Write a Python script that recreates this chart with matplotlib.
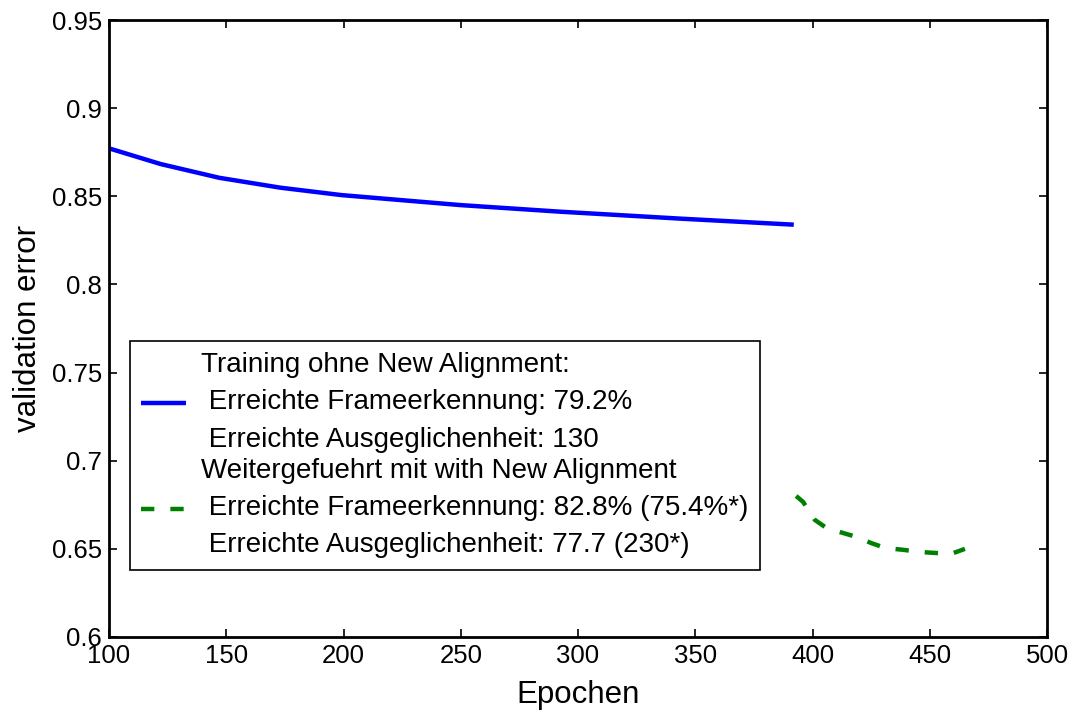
import matplotlib
matplotlib.use('Agg')
import matplotlib.pyplot as plt

# Training without new alignment (blue)
epochs_old = [100, 122, 147, 173, 199, 224, 250, 292, 344, 392]
error_old = [0.8772, 0.8683, 0.8605, 0.8549, 0.8507, 0.8479, 0.8450, 0.8413, 0.8373, 0.8339]

# Continued with new alignment (green, dashed)
epochs_new = [393, 396, 401, 406, 413, 419, 425, 431, 439, 445, 452, 459, 465]
error_new = [0.680, 0.6766, 0.6664, 0.6618, 0.6590, 0.6567, 0.6533, 0.6505,
             0.6494, 0.6483, 0.6477, 0.6471, 0.650]

label_old = ("Training ohne New Alignment:\n"
             " Erreichte Frameerkennung: 79.2%\n"
             " Erreichte Ausgeglichenheit: 130")
label_new = ("Weitergefuehrt mit with New Alignment\n"
             " Erreichte Frameerkennung: 82.8% (75.4%*)\n"
             " Erreichte Ausgeglichenheit: 77.7 (230*)")

x_ticks = [100, 150, 200, 250, 300, 350, 400, 450, 500]
y_ticks = [0.6, 0.65, 0.7, 0.75, 0.8, 0.85, 0.9, 0.95]

plt.rcParams['font.family'] = ['Liberation Sans', 'DejaVu Sans']

fig = plt.figure(figsize=(10.73, 7.15), dpi=100)
ax = fig.add_axes([0.1016, 0.1091, 0.8742, 0.8629])

ax.plot(epochs_old, error_old, color='#0000FF', linewidth=3.2,
        solid_capstyle='butt', label=label_old)
ax.plot(epochs_new, error_new, color='#008000', linewidth=3.2,
        linestyle=(0, (3.0, 3.6)), dash_capstyle='butt', label=label_new)

ax.set_xlim(100, 500)
ax.set_ylim(0.6, 0.95)
ax.set_xticks(x_ticks)
ax.set_xticklabels([str(v) for v in x_ticks])
ax.set_yticks(y_ticks)
ax.set_yticklabels(['0.6', '0.65', '0.7', '0.75', '0.8', '0.85', '0.9', '0.95'])

ax.tick_params(direction='in', top=True, right=True, length=6, width=1.2,
               labelsize=18.5, pad=5)
for s in ax.spines.values():
    s.set_linewidth(2)

ax.set_xlabel('Epochen', fontsize=22.5, labelpad=9)
ax.set_ylabel('validation error', fontsize=22.5, labelpad=6)

# legend box: upper-left corner at (130 px, 341 px), 630 px wide
leg = ax.legend(loc='upper left', bbox_to_anchor=(0.0224, 0.3797, 0.6716, 0.1),
                mode='expand', fontsize=20, frameon=True, fancybox=False,
                framealpha=1, edgecolor='black', handlelength=1.62,
                handletextpad=0.54, labelspacing=0.2, borderpad=0.4,
                borderaxespad=0)
leg.get_frame().set_linewidth(1.2)
for t in leg.get_texts():
    t.set_linespacing(1.56)

plt.savefig('out.png', dpi=100)
